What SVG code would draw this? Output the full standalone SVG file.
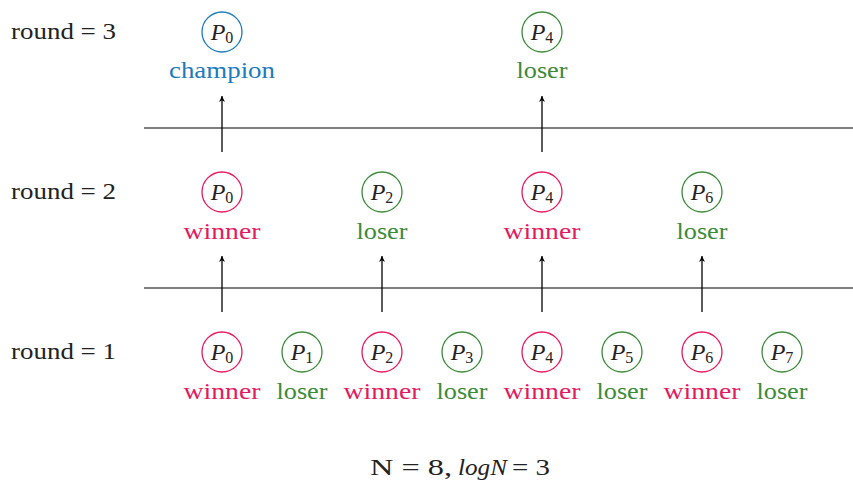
<svg xmlns="http://www.w3.org/2000/svg" width="853" height="481" viewBox="0 0 853 481">
<defs>
<marker id="ah" viewBox="0 0 10 10" refX="10" refY="5" markerWidth="6" markerHeight="9" markerUnits="userSpaceOnUse" orient="auto">
<path d="M0,0 L10,5 L0,10 L3,5 Z" fill="#000"/>
</marker>
<style>
text{font-family:"Liberation Serif","DejaVu Serif",serif;}
.rl{font-size:23px;fill:#222;}
.p{font-size:24px;fill:#222;text-anchor:middle;font-style:italic;}
.p tspan{font-style:normal;font-size:16px;}
.lab{font-size:24px;text-anchor:middle;}
.win{stroke:#e6195f;fill:none;stroke-width:1.3;}
.los{stroke:#3a8a3a;fill:none;stroke-width:1.3;}
.cha{stroke:#1c7bbd;fill:none;stroke-width:1.3;}
.tw{fill:#e6195f;}
.tl{fill:#3a8a3a;}
.tc{fill:#1c7bbd;}
.conn line{stroke:#000;stroke-width:1.3;}
</style>
</defs>
<rect width="853" height="481" fill="#fff"/>
<text class="rl" x="11" y="39" textLength="105" lengthAdjust="spacingAndGlyphs">round = 3</text>
<text class="rl" x="11" y="199" textLength="105" lengthAdjust="spacingAndGlyphs">round = 2</text>
<text class="rl" x="11" y="359" textLength="105" lengthAdjust="spacingAndGlyphs">round = 1</text>
<g id="separators">
<line x1="144" y1="128" x2="853" y2="128" stroke="#000" stroke-width="1.2"/>
<line x1="144" y1="288" x2="853" y2="288" stroke="#000" stroke-width="1.2"/>
</g>
<g class="conn" id="connectors">
<line x1="222" y1="152" x2="222" y2="96" marker-end="url(#ah)"/>
<line x1="542" y1="152" x2="542" y2="96" marker-end="url(#ah)"/>
<line x1="222" y1="312" x2="222" y2="256" marker-end="url(#ah)"/>
<line x1="382" y1="312" x2="382" y2="256" marker-end="url(#ah)"/>
<line x1="542" y1="312" x2="542" y2="256" marker-end="url(#ah)"/>
<line x1="702" y1="312" x2="702" y2="256" marker-end="url(#ah)"/>
</g>
<g id="r3-p0"><circle class="cha" cx="222" cy="32" r="20"/><text class="p" x="222" y="40">P<tspan dy="3">0</tspan></text><text class="lab tc" x="222" y="78" textLength="106" lengthAdjust="spacingAndGlyphs">champion</text></g>
<g id="r3-p4"><circle class="los" cx="542" cy="32" r="20"/><text class="p" x="542" y="40">P<tspan dy="3">4</tspan></text><text class="lab tl" x="542" y="78" textLength="51" lengthAdjust="spacingAndGlyphs">loser</text></g>
<g id="r2-p0"><circle class="win" cx="222" cy="192" r="20"/><text class="p" x="222" y="200">P<tspan dy="3">0</tspan></text><text class="lab tw" x="222" y="239" textLength="77" lengthAdjust="spacingAndGlyphs">winner</text></g>
<g id="r2-p2"><circle class="los" cx="382" cy="192" r="20"/><text class="p" x="382" y="200">P<tspan dy="3">2</tspan></text><text class="lab tl" x="382" y="239" textLength="51" lengthAdjust="spacingAndGlyphs">loser</text></g>
<g id="r2-p4"><circle class="win" cx="542" cy="192" r="20"/><text class="p" x="542" y="200">P<tspan dy="3">4</tspan></text><text class="lab tw" x="542" y="239" textLength="77" lengthAdjust="spacingAndGlyphs">winner</text></g>
<g id="r2-p6"><circle class="los" cx="702" cy="192" r="20"/><text class="p" x="702" y="200">P<tspan dy="3">6</tspan></text><text class="lab tl" x="702" y="239" textLength="51" lengthAdjust="spacingAndGlyphs">loser</text></g>
<g id="r1-p0"><circle class="win" cx="222" cy="352" r="20"/><text class="p" x="222" y="360">P<tspan dy="3">0</tspan></text><text class="lab tw" x="222" y="399" textLength="77" lengthAdjust="spacingAndGlyphs">winner</text></g>
<g id="r1-p1"><circle class="los" cx="302" cy="352" r="20"/><text class="p" x="302" y="360">P<tspan dy="3">1</tspan></text><text class="lab tl" x="302" y="399" textLength="51" lengthAdjust="spacingAndGlyphs">loser</text></g>
<g id="r1-p2"><circle class="win" cx="382" cy="352" r="20"/><text class="p" x="382" y="360">P<tspan dy="3">2</tspan></text><text class="lab tw" x="382" y="399" textLength="77" lengthAdjust="spacingAndGlyphs">winner</text></g>
<g id="r1-p3"><circle class="los" cx="462" cy="352" r="20"/><text class="p" x="462" y="360">P<tspan dy="3">3</tspan></text><text class="lab tl" x="462" y="399" textLength="51" lengthAdjust="spacingAndGlyphs">loser</text></g>
<g id="r1-p4"><circle class="win" cx="542" cy="352" r="20"/><text class="p" x="542" y="360">P<tspan dy="3">4</tspan></text><text class="lab tw" x="542" y="399" textLength="77" lengthAdjust="spacingAndGlyphs">winner</text></g>
<g id="r1-p5"><circle class="los" cx="622" cy="352" r="20"/><text class="p" x="622" y="360">P<tspan dy="3">5</tspan></text><text class="lab tl" x="622" y="399" textLength="51" lengthAdjust="spacingAndGlyphs">loser</text></g>
<g id="r1-p6"><circle class="win" cx="702" cy="352" r="20"/><text class="p" x="702" y="360">P<tspan dy="3">6</tspan></text><text class="lab tw" x="702" y="399" textLength="77" lengthAdjust="spacingAndGlyphs">winner</text></g>
<g id="r1-p7"><circle class="los" cx="782" cy="352" r="20"/><text class="p" x="782" y="360">P<tspan dy="3">7</tspan></text><text class="lab tl" x="782" y="399" textLength="51" lengthAdjust="spacingAndGlyphs">loser</text></g>
<g id="formula" font-size="23" fill="#222">
<text x="370" y="475" textLength="82" lengthAdjust="spacingAndGlyphs">N = 8,</text>
<text x="458" y="475" font-style="italic" textLength="49" lengthAdjust="spacingAndGlyphs">logN</text>
<text x="512" y="475" textLength="38" lengthAdjust="spacingAndGlyphs">= 3</text>
</g>
</svg>
